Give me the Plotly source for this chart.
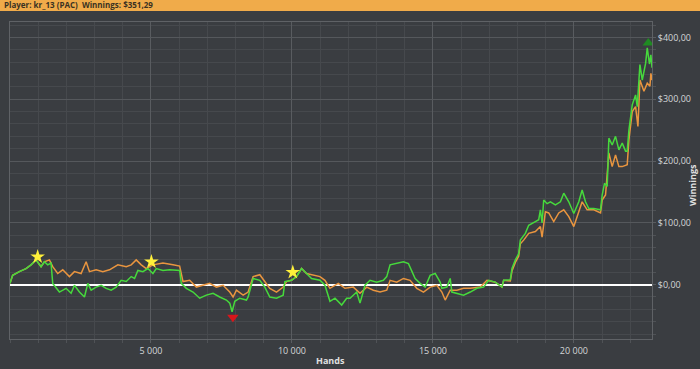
import plotly.graph_objects as go

# ---- data ----
green_hands = [0, 94, 331, 568, 745, 923, 1101, 1219, 1337, 1456, 1515, 1634, 1752, 1989, 2167, 2285,
               2463, 2641, 2759, 2878, 3055, 3233, 3411, 3588, 3766, 3944, 4122, 4299, 4418, 4536,
               4714, 4891, 5069, 5188, 5425, 5662, 6017, 6076, 6254, 6491, 6728, 6965, 7202, 7438,
               7675, 7794, 7877, 7972, 8149, 8386, 8445, 8623, 8860, 9038, 9215, 9452, 9689, 9748,
               9985, 10163, 10341, 10518, 10696, 10993, 11170, 11348, 11526, 11763, 11940, 12059,
               12296, 12414, 12592, 12770, 13006, 13243, 13362, 13480, 13717, 13954, 14132, 14250,
               14369, 14547, 14724, 14902, 15080, 15257, 15317, 15494, 15613, 15672, 15850, 16087,
               16324, 16561, 16797, 16975, 17212, 17449, 17508, 17745, 17804, 17923, 18041, 18100,
               18278, 18397, 18634, 18752, 18811, 18871, 18930, 19048, 19167, 19344, 19522, 19640,
               19818, 19996, 20173, 20292, 20411, 20529, 20707, 20944, 21003, 21086, 21181, 21240,
               21358, 21477, 21595, 21714, 21832, 21891, 21951, 22069, 22188, 22247, 22342, 22425,
               22543, 22602, 22680, 22730, 22770]
green_vals = [2, 15, 21, 26, 32, 40, 29, 37, 32, 35, 2, -6, -12, -6, -14, -1,
              -12, -20, 2, -9, -4, -1, -6, -9, -4, 7, 5, 13, 10, 23,
              21, 26, 18, 26, 23, 24, 23, 2, -6, -12, -22, -17, -14, -20,
              -25, -30, -44, -27, -22, -25, -20, 10, 7, -4, -20, -22, -17, 5,
              7, 13, 26, 18, 10, 7, -1, -27, -22, -33, -22, -22,
              -12, -30, -1, 7, 4, 7, 13, 32, 34, 37, 34, 23,
              10, 2, -4, 15, 18, 4, -6, -4, 10, -12, -14, -17,
              -12, -6, -4, 7, 4, -4, 7, 8, 26, 40, 50, 72,
              83, 96, 102, 105, 121, 100, 137, 131, 134, 129, 134, 148,
              134, 115, 134, 153, 134, 123, 123, 121, 145, 164, 159, 237,
              226, 240, 218, 229, 216, 216, 250, 291, 307, 288, 356, 331,
              358, 383, 357, 372, 351]

orange_hands = [0, 94, 331, 568, 745, 923, 1101, 1219, 1397, 1515, 1693, 1871, 2108, 2285, 2522, 2700,
                2818, 3055, 3292, 3529, 3825, 4122, 4299, 4477, 4655, 4833, 5069, 5425, 5780, 6017,
                6135, 6372, 6609, 6846, 7083, 7320, 7557, 7794, 7912, 8031, 8268, 8445, 8623, 8860,
                9038, 9215, 9452, 9689, 9808, 9985, 10163, 10341, 10518, 10993, 11170, 11348, 11644,
                11881, 12177, 12414, 12651, 12888, 13125, 13362, 13480, 13717, 13954, 14191, 14428,
                14665, 14902, 15139, 15317, 15435, 15613, 15850, 16087, 16324, 16679, 16916, 17212,
                17449, 17508, 17745, 17804, 17923, 18041, 18100, 18219, 18397, 18634, 18811, 18871,
                18989, 19108, 19285, 19463, 19640, 19818, 19996, 20173, 20292, 20470, 20707, 20944,
                21003, 21122, 21240, 21358, 21477, 21595, 21714, 21891, 21951, 22069, 22188, 22271,
                22342, 22484, 22602, 22697, 22730, 22770]
orange_vals = [2, 15, 21, 26, 32, 40, 29, 37, 40, 29, 18, 24, 13, 21, 18, 37,
               21, 24, 21, 24, 32, 29, 32, 40, 32, 26, 32, 35, 32, 30,
               5, 7, -4, -1, 2, -4, -1, -12, -20, -9, -17, -12, 13, 16,
               5, -6, -12, -4, 5, 7, 13, 26, 18, 13, 7, -6, 2,
               -6, -4, -14, -4, -9, -12, -9, 7, 4, 10, 7, -6,
               -12, -4, -1, -12, -25, -9, -9, -6, -6, -4, 7, 4,
               -4, 7, 6, 22, 36, 46, 66, 72, 83, 86, 94, 77,
               118, 116, 102, 116, 121, 110, 94, 118, 134, 121, 121, 116,
               137, 145, 213, 191, 210, 191, 191, 194, 234, 280, 288, 256,
               331, 313, 326, 321, 342, 331]

star_hands = [981, 5015, 10030]
star_vals = [45, 37, 20]
min_hand, min_val = [7905], [-53]
max_hand, max_val = [22638], [391]

x_tickvals = [5000, 10000, 15000, 20000]
x_ticktext = ["5 000", "10 000", "15 000", "20 000"]
y_tickvals = [0, 100, 200, 300, 400]
y_ticktext = ["$0,00", "$100,00", "$200,00", "$300,00", "$400,00"]

BG = "#3a3d41"
GREEN = "#46d93c"
ORANGE = "#e9953f"

fig = go.Figure()
fig.add_trace(go.Scatter(x=orange_hands, y=orange_vals, mode="lines",
                         line=dict(color=ORANGE, width=1.5), hoverinfo="skip"))
fig.add_trace(go.Scatter(x=green_hands, y=green_vals, mode="lines",
                         line=dict(color=GREEN, width=1.5), hoverinfo="skip"))
fig.add_trace(go.Scatter(x=star_hands, y=star_vals, mode="markers",
                         marker=dict(symbol="star", size=11, color="#fff03a",
                                     line=dict(width=0))))
fig.add_trace(go.Scatter(x=min_hand, y=min_val, mode="markers",
                         marker=dict(symbol="triangle-down", size=10, color="#d8161b",
                                     line=dict(width=0))))
fig.add_trace(go.Scatter(x=max_hand, y=max_val, mode="markers",
                         marker=dict(symbol="triangle-up", size=10, color="#1f8a22",
                                     line=dict(width=0))))

PW = 642
PH = 317
fig.add_shape(type="rect", xref="paper", yref="paper",
              x0=-10 / PW, x1=1 + 48 / PW, y0=1 + 11 / PH, y1=1 + 22 / PH,
              fillcolor="#f0ab4a", line=dict(width=0), layer="above")
fig.add_annotation(xref="paper", yref="paper", x=-8 / PW, y=1 + 17.8 / PH,
                   xanchor="left", yanchor="middle", showarrow=False,
                   text="<b>Player: kr_13 (PAC)  Winnings: $351,29</b>",
                   font=dict(family="Open Sans", size=8, color="#3a3222"))
# axis titles
fig.add_annotation(xref="paper", yref="paper", x=(330 - 10) / PW, y=-(368 - 339) / PH,
                   xanchor="center", yanchor="bottom", showarrow=False, borderpad=0,
                   text="<b>Hands</b>", font=dict(family="Open Sans", size=9, color="#e0e0e0"))
fig.add_annotation(xref="paper", yref="paper", x=1 + (699.5 - 652) / PW, y=(339 - 185) / PH,
                   xanchor="right", yanchor="middle", showarrow=False, textangle=-90,
                   borderpad=0,
                   text="<b>Winnings</b>", font=dict(family="Open Sans", size=9, color="#e0e0e0"))

fig.update_layout(
    width=700, height=369,
    margin=dict(l=10, r=48, t=22, b=30, autoexpand=False),
    paper_bgcolor=BG, plot_bgcolor=BG,
    showlegend=False,
    font=dict(family="Open Sans", size=9, color="#d4d6d8"),
)
fig.update_xaxes(
    range=[0, 22770], automargin=False,
    tickmode="array", tickvals=x_tickvals, ticktext=x_ticktext,
    showgrid=True, gridcolor="#595c60", gridwidth=1,
    ticks="outside", ticklen=3, tickcolor="#5a5d61",
    minor=dict(dtick=1000, tick0=0, showgrid=True, gridcolor="#46494d",
               ticks="outside", ticklen=3, tickcolor="#4f5256"),
    showline=True, linecolor="#5f6266", linewidth=1, mirror=True,
    zeroline=False,
    tickfont=dict(size=9, color="#d4d6d8"),
)
fig.update_yaxes(
    range=[-88, 425], side="right", automargin=False,
    tickmode="array", tickvals=y_tickvals, ticktext=y_ticktext,
    showgrid=True, gridcolor="#55585c", gridwidth=1,
    ticks="outside", ticklen=3, tickcolor="#5a5d61",
    minor=dict(dtick=20, tick0=0, showgrid=True, gridcolor="#46494d",
               ticks="outside", ticklen=3, tickcolor="#4f5256"),
    showline=True, linecolor="#5f6266", linewidth=1, mirror=True,
    zeroline=True, zerolinecolor="#ffffff", zerolinewidth=2,
    tickfont=dict(size=9, color="#d4d6d8"),
)

fig.write_html("out.html")
